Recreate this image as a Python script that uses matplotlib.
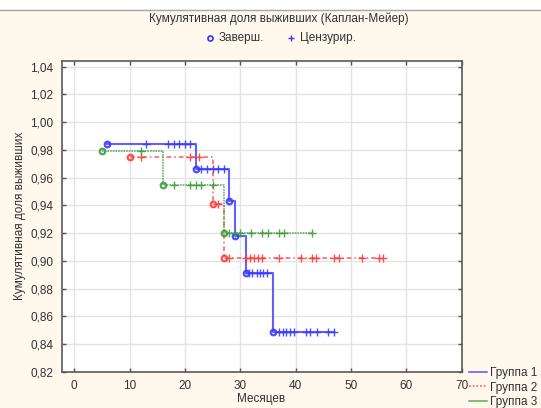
import numpy as np
import matplotlib
matplotlib.use("Agg")
import matplotlib.pyplot as plt
from matplotlib.lines import Line2D
from matplotlib.patches import Rectangle
from matplotlib.ticker import FuncFormatter

plt.rcParams['font.family'] = ['Liberation Sans', 'DejaVu Sans']

# ---- data ----
groups = ["Группа 1", "Группа 2", "Группа 3"]

g1_event_t = [6, 22, 28, 29, 31, 36]
g1_surv = [0.984, 0.966, 0.943, 0.918, 0.891, 0.849]
g1_end = 47
g1_cens = [13, 17, 18, 19, 20, 21, 23, 24, 25, 26, 27,
           31.6, 32.2, 33, 33.6, 34.2, 34.8,
           37, 37.7, 38.3, 39, 39.8, 41.9, 42.7, 43.9, 45.8, 47]

g2_event_t = [10, 25, 27]
g2_surv = [0.975, 0.941, 0.902]
g2_end = 56
g2_cens = [12, 21, 22.5, 26, 28, 31, 31.7, 32.5, 33.2, 34, 37, 41, 43, 43.7,
           47, 47.8, 52, 55, 55.8]

g3_event_t = [5, 16, 27]
g3_surv = [0.979, 0.955, 0.920]
g3_end = 43
g3_cens = [12, 18, 21, 22, 23, 25, 28, 29, 30, 32, 34, 35, 37, 38, 43]

x_ticks = [0, 10, 20, 30, 40, 50, 60, 70]
y_ticks = [0.82, 0.84, 0.86, 0.88, 0.90, 0.92, 0.94, 0.96, 0.98, 1.00, 1.02, 1.04]

title = "Кумулятивная доля выживших (Каплан-Мейер)"
legend_top = ["Заверш.", "Цензурир."]
xlabel = "Месяцев"
ylabel = "Кумулятивная доля выживших"

# ---- figure ----
W, H = 541, 408
fig = plt.figure(figsize=(W / 100, H / 100), dpi=100)
fig.patch.set_facecolor('#FFF8EC')
fig.add_artist(Rectangle((0, 1 - 9 / H), 1, 9 / H, transform=fig.transFigure,
                         facecolor='white', edgecolor='none', zorder=0))
fig.add_artist(Line2D([0, 1], [1 - 9.5 / H, 1 - 9.5 / H], transform=fig.transFigure,
                      color='#A8A8A8', lw=1.0))

ax = fig.add_axes([61.5 / W, 1 - 372 / H, 400 / W, (372 - 60.5) / H])
ax.set_facecolor('white')
ax.set_xlim(-2.3, 70)
ax.set_ylim(0.82, 1.0445)

ax.set_xticks(x_ticks)
ax.set_yticks(y_ticks)
ax.yaxis.set_major_formatter(FuncFormatter(lambda v, p: f"{v:.2f}".replace('.', ',')))
ax.grid(True, color='#E3E3E3', lw=1.0)
ax.set_axisbelow(True)
ax.tick_params(direction='in', length=3, width=1, color='#555555',
               labelsize=8.5, labelcolor='#333333', top=True, right=True)
ax.tick_params(axis='x', pad=6)
ax.tick_params(axis='y', pad=6)
for s in ax.spines.values():
    s.set_color('#5A5A5A')
    s.set_linewidth(1.2)

styles = [
    dict(color='#3A3AFF', ls='-', lw=1.5, alpha=0.8),
    dict(color='#FF3B3B', ls=(0, (3, 2, 1, 2)), lw=1.1, alpha=0.85),
    dict(color='#3E9E3E', ls=(0, (1, 0.6)), lw=1.2, alpha=0.8),
]
legend_ls = ['-', (0, (1.2, 1.2)), '-']

data = [
    (g1_event_t, g1_surv, g1_end, g1_cens),
    (g2_event_t, g2_surv, g2_end, g2_cens),
    (g3_event_t, g3_surv, g3_end, g3_cens),
]

for (et, sv, end, cens), st, name in zip(data, styles, groups):
    xs = list(et) + [end]
    ys = list(sv) + [sv[-1]]
    ax.step(xs, ys, where='post', label=name, **st)
    ax.plot(et, sv, ls='none', marker='o', ms=4.0, mfc='none', mec=st['color'],
            mew=1.6, alpha=0.9)
    idx = np.searchsorted(np.array(et), np.array(cens), side='right') - 1
    cy = np.array(sv)[idx]
    ax.plot(cens, cy, ls='none', marker='+', ms=6.0, mew=1.0, color=st['color'],
            alpha=0.9)

# titles
fig.text(279 / W, 1 - 19 / H, title, ha='center', va='center', fontsize=8.5,
         color='#333333')
fig.add_artist(Line2D([210 / W], [1 - 38 / H], transform=fig.transFigure, marker='o',
                      ms=3.6, mfc='none', mec='#3A3AFF', mew=1.3, ls='none'))
fig.text(219 / W, 1 - 38 / H, legend_top[0], ha='left', va='center', fontsize=8.5,
         color='#333333')
fig.add_artist(Line2D([291 / W], [1 - 38 / H], transform=fig.transFigure, marker='+',
                      ms=5, mec='#3A3AFF', mew=1.0, ls='none'))
fig.text(300 / W, 1 - 38 / H, legend_top[1], ha='left', va='center', fontsize=8.5,
         color='#333333')

fig.text(261 / W, 1 - 399 / H, xlabel, ha='center', va='center', fontsize=8.5,
         color='#333333')
fig.text(20 / W, 1 - 216 / H, ylabel, ha='center', va='center', rotation=90,
         fontsize=8.5, color='#333333')

handles = [Line2D([0], [0], color=st['color'], ls=lls, lw=1.1, alpha=0.85)
           for st, lls in zip(styles, legend_ls)]
fig.legend(handles, groups, loc='upper left', bbox_to_anchor=(469 / W, 1 - 367 / H),
           frameon=False, fontsize=8.5, handlelength=1.5, handletextpad=0.3,
           labelspacing=0.22, borderpad=0, borderaxespad=0, labelcolor='#333333')

fig.savefig('out.png', dpi=100, facecolor=fig.get_facecolor())
